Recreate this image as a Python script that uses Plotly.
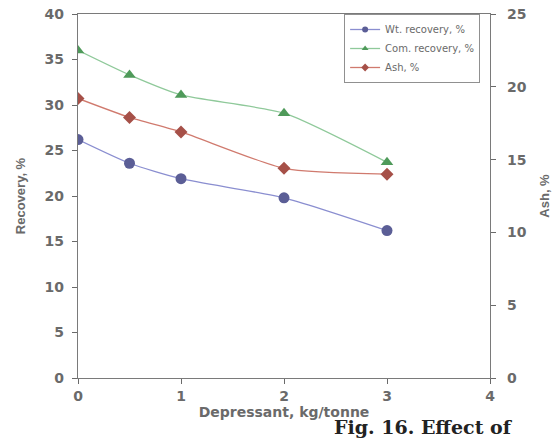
import plotly.graph_objects as go

depressant = [0, 0.5, 1, 2, 3]
wt_recovery = [26.2, 23.6, 21.9, 19.8, 16.2]
com_recovery = [36.0, 33.3, 31.1, 29.1, 23.7]
ash = [19.2, 17.9, 16.9, 14.4, 14.0]

x_ticks = [0, 1, 2, 3, 4]
left_ticks = [0, 5, 10, 15, 20, 25, 30, 35, 40]
right_ticks = [0, 5, 10, 15, 20, 25]

series = [
    dict(name="Wt. recovery, %", y=wt_recovery, axis="y", line="#8a8ed0",
         marker="#5b5e96", symbol="circle", size=11),
    dict(name="Com. recovery, %", y=com_recovery, axis="y", line="#8fc99a",
         marker="#4f9a5a", symbol="triangle-up", size=11),
    dict(name="Ash, %", y=ash, axis="y2", line="#d07a6e",
         marker="#a65048", symbol="diamond", size=10),
]

gray = "#6a6a6a"
tick_font = dict(family="DejaVu Sans", size=14, color=gray, weight="bold")
title_font = dict(family="Liberation Sans, Arial", size=13, color=gray, weight="bold")

fig = go.Figure()
for s in series:
    fig.add_trace(go.Scatter(
        x=depressant, y=s["y"], yaxis=s["axis"], name=s["name"], showlegend=False,
        mode="lines+markers",
        line=dict(color=s["line"], width=1.3, shape="spline", smoothing=0.6),
        marker=dict(symbol=s["symbol"], size=s["size"], color=s["marker"]),
    ))
# compact legend entries with small symbols
for s in series:
    fig.add_trace(go.Scatter(
        x=[None], y=[None], name=s["name"], mode="lines+markers",
        line=dict(color=s["line"], width=1.3),
        marker=dict(symbol=s["symbol"], size=6, color=s["marker"]),
    ))

fig.update_layout(
    width=552, height=439,
    margin=dict(l=78, r=62, t=14, b=61),
    paper_bgcolor="white", plot_bgcolor="white",
    showlegend=True,
    legend=dict(
        x=0.976, y=1.0, xanchor="right", yanchor="top",
        bgcolor="white", bordercolor="#909090", borderwidth=1,
        font=dict(family="DejaVu Sans", size=10, color=gray),
        itemwidth=30, tracegroupgap=0,
    ),
    xaxis=dict(
        range=[0, 4], tickvals=x_ticks, ticks="outside", ticklen=5,
        tickcolor=gray, showline=True, linecolor="#7a7a7a", linewidth=1.2,
        mirror=True, showgrid=False, zeroline=False, automargin=False,
        tickfont=tick_font,
        title=dict(text="Depressant, kg/tonne",
                   font=dict(family="DejaVu Sans", size=14, color=gray, weight="bold"),
                   standoff=4),
    ),
    yaxis=dict(
        range=[0, 40], tickvals=left_ticks, ticks="outside", ticklen=5,
        tickcolor=gray, showline=True, linecolor="#7a7a7a", linewidth=1.2,
        showgrid=False, zeroline=False, tickfont=tick_font, automargin=False,
        ticklabelstandoff=5,
        title=dict(text="Recovery, %", font=title_font, standoff=16),
    ),
    yaxis2=dict(
        range=[0, 25], tickvals=right_ticks, overlaying="y", side="right",
        ticks="outside", ticklen=5, tickcolor=gray, showline=True,
        linecolor="#7a7a7a", linewidth=1.2, showgrid=False, zeroline=False,
        tickfont=tick_font, automargin=False, ticklabelstandoff=8,
        title=dict(text="Ash, %", font=title_font, standoff=20),
    ),
)

fig.add_annotation(
    text="<b>Fig. 16. Effect of</b>", xref="paper", yref="paper",
    x=0.62, y=-0.1676, xanchor="left", yanchor="bottom", showarrow=False,
    borderpad=0,
    font=dict(family="DejaVu Serif", size=19, color="#222222"),
)

fig.write_html("out.html")
